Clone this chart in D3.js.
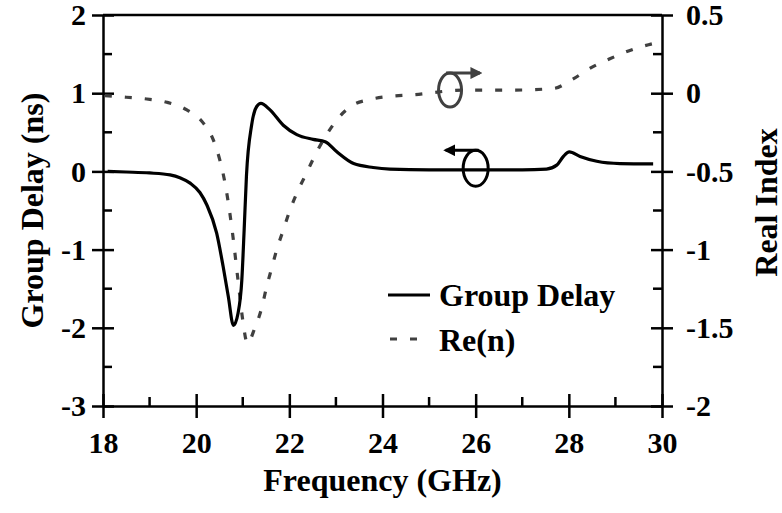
<!DOCTYPE html>
<html>
<head>
<meta charset="utf-8">
<script src="https://cdn.jsdelivr.net/npm/d3@7"></script>
<style>
  body { margin: 0; background: #fff; }
</style>
</head>
<body>
<svg id="chart" width="782" height="513"></svg>
<script>
// group delay (ns), left axis
const freqGD = [18.1, 18.5, 19.0, 19.44, 19.65, 19.87, 20.08, 20.23, 20.44, 20.58, 20.69, 20.8, 20.9, 20.98, 21.03, 21.08, 21.19, 21.3, 21.39, 21.58, 21.87, 22.16, 22.51, 22.77, 23.02, 23.38, 23.8, 24.16, 25, 26, 27, 27.52, 27.74, 27.88, 28.01, 28.24, 28.6, 29.1, 29.81]
const groupDelay = [0.0, -0.008, -0.02, -0.045, -0.08, -0.15, -0.27, -0.43, -0.79, -1.22, -1.6, -1.97, -1.81, -1.39, -0.75, -0.05, 0.59, 0.83, 0.87, 0.79, 0.59, 0.47, 0.41, 0.38, 0.25, 0.10, 0.05, 0.03, 0.02, 0.02, 0.02, 0.03, 0.08, 0.19, 0.25, 0.19, 0.13, 0.10, 0.095]

// real part of index, right axis
const freqRe = [18.04, 18.5, 18.94, 19.37, 19.8, 20.15, 20.37, 20.51, 20.61, 20.77, 20.9, 21.0, 21.1, 21.26, 21.41, 21.51, 21.62, 21.73, 21.87, 22.01, 22.19, 22.37, 22.58, 22.77, 23.02, 23.34, 23.73, 24.16, 24.66, 25.73, 26.81, 27.67, 28.06, 28.46, 28.88, 29.28, 29.71, 29.85]
const realIndex = [-0.016, -0.026, -0.037, -0.058, -0.107, -0.19, -0.30, -0.43, -0.56, -0.87, -1.2, -1.45, -1.60, -1.50, -1.37, -1.24, -1.12, -1.0, -0.875, -0.75, -0.62, -0.51, -0.38, -0.28, -0.17, -0.08, -0.04, -0.02, -0.01, 0.02, 0.02, 0.03, 0.085, 0.16, 0.22, 0.27, 0.31, 0.32]

const xTicks = [18, 20, 22, 24, 26, 28, 30]
const leftTicks = [2, 1, 0, -1, -2, -3]
const rightTicks = [0.5, 0, -0.5, -1, -1.5, -2]
const legendLabels = ["Group Delay", "Re(n)"]

const svg = d3.select("#chart")
const plot = {left: 103, right: 662, top: 15, bottom: 406}
const serif = "'Liberation Serif', 'Times New Roman', serif"

const x = d3.scaleLinear().domain([18, 30]).range([plot.left, plot.right])
const yL = d3.scaleLinear().domain([-3, 2]).range([plot.bottom, plot.top])
const yR = d3.scaleLinear().domain([-2, 0.5]).range([plot.bottom, plot.top])

const tickFont = 30
const titleFont = 32

// frame: top line
svg.append("line")
    .attr("x1", plot.left).attr("x2", plot.right)
    .attr("y1", plot.top).attr("y2", plot.top)
    .attr("stroke", "#000").attr("stroke-width", 2.5)

// axes drawn with d3 then ticks restyled (major ticks cross the axis)
function styleAxis(g) {
    g.attr("font-family", serif).attr("font-size", tickFont).attr("font-weight", "bold")
    g.select(".domain").attr("stroke", "#000").attr("stroke-width", 2.5)
    g.selectAll(".tick line").attr("stroke", "#000").attr("stroke-width", 2.5)
    g.selectAll("text").attr("fill", "#000")
}
const fmt = d => String(d)

const xAxis = svg.append("g")
    .attr("transform", `translate(0,${plot.bottom})`)
    .call(d3.axisBottom(x).tickValues(xTicks).tickFormat(fmt).tickSizeOuter(0).tickSize(0).tickPadding(26))
styleAxis(xAxis)
xAxis.selectAll(".tick line").attr("y1", -12).attr("y2", 12)
xAxis.selectAll(".minor").data(d3.range(19, 30, 2)).enter().append("line")
    .attr("x1", d => x(d)).attr("x2", d => x(d)).attr("y1", 0).attr("y2", -9)
    .attr("stroke", "#000").attr("stroke-width", 2.5)

const leftAxis = svg.append("g")
    .attr("transform", `translate(${plot.left},0)`)
    .call(d3.axisLeft(yL).tickValues(leftTicks).tickFormat(fmt).tickSizeOuter(0).tickSize(0).tickPadding(17))
styleAxis(leftAxis)
leftAxis.selectAll(".tick line").attr("x1", -11).attr("x2", 11)
leftAxis.selectAll(".minor").data(d3.range(-2.5, 2, 1)).enter().append("line")
    .attr("y1", d => yL(d)).attr("y2", d => yL(d)).attr("x1", 0).attr("x2", 9)
    .attr("stroke", "#000").attr("stroke-width", 2.5)

const rightAxis = svg.append("g")
    .attr("transform", `translate(${plot.right},0)`)
    .call(d3.axisRight(yR).tickValues(rightTicks).tickFormat(fmt).tickSizeOuter(0).tickSize(0).tickPadding(24))
styleAxis(rightAxis)
rightAxis.selectAll(".tick line").attr("x1", -11).attr("x2", 11)
rightAxis.selectAll(".minor").data(d3.range(-1.75, 0.5, 0.5)).enter().append("line")
    .attr("y1", d => yR(d)).attr("y2", d => yR(d)).attr("x1", 0).attr("x2", -9)
    .attr("stroke", "#000").attr("stroke-width", 2.5)

// axis titles
function title(sel) {
    return sel.attr("font-family", serif).attr("font-weight", "bold")
        .attr("font-size", titleFont).attr("text-anchor", "middle")
}
svg.append("text").call(title)
    .attr("x", (plot.left + plot.right) / 2).attr("y", 491)
    .text("Frequency (GHz)")

svg.append("text").call(title)
    .attr("transform", `translate(43,${(plot.top + plot.bottom) / 2}) rotate(-90)`)
    .text("Group Delay (ns)")

svg.append("text").call(title)
    .attr("transform", `translate(777,${(plot.top + plot.bottom) / 2 - 8}) rotate(-90)`)
    .text("Real Index")

// curves
const gdData = freqGD.map((f, i) => ({f, v: groupDelay[i]}))
const reData = freqRe.map((f, i) => ({f, v: realIndex[i]}))

svg.append("path")
    .datum(reData)
    .attr("fill", "none").attr("stroke", "#404040").attr("stroke-width", 3.2)
    .attr("stroke-dasharray", "7,13")
    .attr("d", d3.line().x(d => x(d.f)).y(d => yR(d.v)).curve(d3.curveMonotoneX))

svg.append("path")
    .datum(gdData)
    .attr("fill", "none").attr("stroke", "#000").attr("stroke-width", 3.2)
    .attr("d", d3.line().x(d => x(d.f)).y(d => yL(d.v)).curve(d3.curveMonotoneX))

// axis pointers: ellipse + arrow
const defs = svg.append("defs")
function marker(id, color) {
    defs.append("marker").attr("id", id)
        .attr("viewBox", "0 0 10 10").attr("refX", 8).attr("refY", 5)
        .attr("markerWidth", 4).attr("markerHeight", 4).attr("orient", "auto-start-reverse")
        .attr("markerUnits", "strokeWidth")
        .append("path").attr("d", "M0,0 L10,5 L0,10 Z").attr("fill", color)
}
marker("arrGray", "#404040")
marker("arrBlack", "#000")

const reCx = x(25.45), reCy = yR(0.02)
svg.append("ellipse").attr("cx", reCx).attr("cy", reCy).attr("rx", 11.5).attr("ry", 17)
    .attr("fill", "none").attr("stroke", "#404040").attr("stroke-width", 3)
svg.append("line").attr("x1", reCx - 4).attr("x2", reCx + 30).attr("y1", reCy - 17).attr("y2", reCy - 17)
    .attr("stroke", "#404040").attr("stroke-width", 3).attr("marker-end", "url(#arrGray)")

const gdCx = x(26.0), gdCy = yL(0.04)
svg.append("ellipse").attr("cx", gdCx).attr("cy", gdCy).attr("rx", 12.5).attr("ry", 18)
    .attr("fill", "none").attr("stroke", "#000").attr("stroke-width", 3)
svg.append("line").attr("x1", gdCx + 3).attr("x2", gdCx - 30).attr("y1", gdCy - 18).attr("y2", gdCy - 18)
    .attr("stroke", "#000").attr("stroke-width", 3).attr("marker-end", "url(#arrBlack)")

// legend
const legend = svg.append("g")
legend.append("line").attr("x1", 388).attr("x2", 430).attr("y1", 295).attr("y2", 295)
    .attr("stroke", "#000").attr("stroke-width", 3.2)
legend.append("line").attr("x1", 390).attr("x2", 418).attr("y1", 339).attr("y2", 339)
    .attr("stroke", "#404040").attr("stroke-width", 3.2).attr("stroke-dasharray", "7,13")
legend.selectAll(".lab").data(legendLabels).enter().append("text")
    .attr("x", 439).attr("y", (d, i) => 306 + i * 45)
    .attr("font-family", serif).attr("font-weight", "bold").attr("font-size", titleFont)
    .text(d => d)
</script>
</body>
</html>
